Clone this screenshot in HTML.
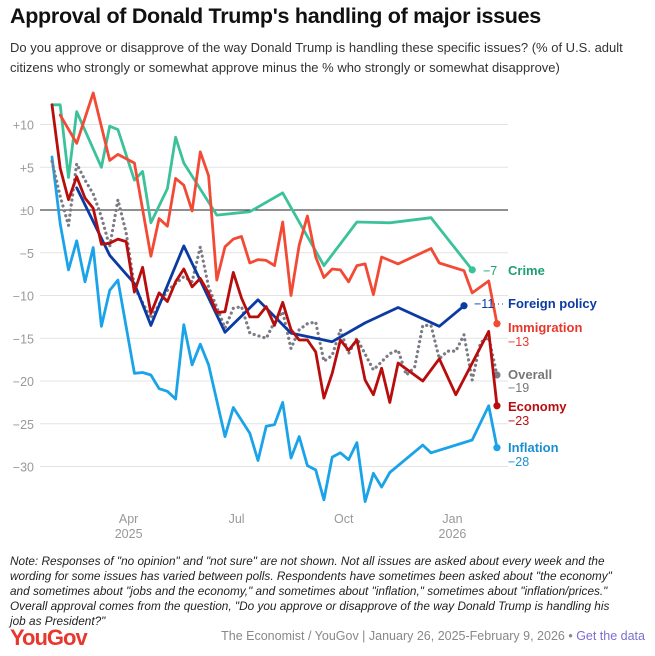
<!DOCTYPE html>
<html><head><meta charset="utf-8"><style>
body{margin:0;background:#fff;font-family:"Liberation Sans",sans-serif;}
#wrap{position:relative;width:655px;height:656px;overflow:hidden;}
h1{position:absolute;left:10px;top:4px;margin:0;font-size:21.5px;font-weight:bold;color:#111;letter-spacing:-0.3px;}
.sub{position:absolute;left:10px;top:38px;width:640px;font-size:13px;line-height:20px;color:#333;}
.note{position:absolute;left:10px;top:554px;width:609px;font-size:11.8px;line-height:15px;font-style:italic;color:#222;}
.logo{position:absolute;left:10px;top:625px;font-size:22px;font-weight:bold;color:#e8372c;letter-spacing:-1px;}
.foot{position:absolute;right:10px;top:629px;font-size:12.5px;color:#888;}
.foot span{color:#7a6fd0;}
</style></head><body>
<div id="wrap">
<h1>Approval of Donald Trump's handling of major issues</h1>
<div class="sub">Do you approve or disapprove of the way Donald Trump is handling these specific issues? (% of U.S. adult citizens who strongly or somewhat approve minus the % who strongly or somewhat disapprove)</div>
<svg id="chart" width="655" height="656" style="position:absolute;left:0;top:0"></svg>
<div class="note">Note: Responses of "no opinion" and "not sure" are not shown. Not all issues are asked about every week and the wording for some issues has varied between polls. Respondents have sometimes been asked about "the economy" and sometimes about "jobs and the economy," and sometimes about "inflation," sometimes about "inflation/prices."<br>Overall approval comes from the question, "Do you approve or disapprove of the way Donald Trump is handling his job as President?"</div>
<div class="logo">YouGov</div>
<div class="foot">The Economist / YouGov | January 26, 2025-February 9, 2026 • <span>Get the data</span></div>
</div>
<script>
const yTicks=[10,5,0,-5,-10,-15,-20,-25,-30];
const yTickLabels=["+10","+5","±0","−5","−10","−15","−20","−25","−30"];
const xTickWeeks=[9.3,22.4,35.4,48.6];
const xTickLabels=["Apr","Jul","Oct","Jan"];
const xTickYears=["2025","","","2026"];
const crimeWeeks=[0,1,2,3,6,7,8,10,11,12,14,15,16,20,24,28,33,37,41,46,51];
const crimeVals=[12.3,12.3,3.8,11.5,5,9.8,9.4,3.5,4.5,-1.5,2.5,8.5,5.5,-0.6,-0.2,2,-6.5,-1.4,-1.5,-0.9,-7];
const immWeeks=[1,3,5,7,8,10,12,13,14,15,16,17,18,19,20,21,22,23,24,25,26,27,28,29,30,31,32,33,34,35,36,37,38,39,40,42,46,47,50,51,53,54];
const immVals=[11.1,7.8,13.7,5.8,6.5,5.5,-5.4,-1,-1.9,3.7,2.9,-0.1,6.8,4,-8.2,-4.3,-3.4,-3.1,-6.2,-5.8,-5.9,-6.5,-1.4,-10,-4.1,-0.7,-5.5,-7.9,-6.9,-7,-8.4,-6.5,-6.3,-9.9,-5.5,-6.3,-4.5,-6.2,-7.1,-9.7,-8.3,-13.3];
const econWeeks=[0,1,2,3,4,5,6,7,8,9,10,11,12,13,14,15,16,17,18,19,20,21,22,23,24,25,26,27,28,29,30,31,32,33,34,35,36,37,38,39,40,41,42,45,47,49,53,54];
const econVals=[12.3,4.9,1.2,3.9,1.4,0.2,-4,-3.9,-3.4,-3.7,-9.6,-6.7,-12.1,-9.7,-10.7,-8.4,-6.9,-9,-8,-9.7,-12,-11.9,-7.3,-10.3,-12.5,-12.5,-11.3,-13.5,-10.8,-14,-15.2,-15.2,-16.6,-22,-19.1,-15.2,-16.4,-15.2,-19.9,-21.6,-18.5,-22.5,-17.9,-20,-17.4,-21.6,-14.2,-22.9];
const fpWeeks=[3,7,10,12,16,21,25,29,34,38,42,47,50];
const fpVals=[2.6,-5.3,-8.6,-13.5,-4.2,-14.3,-10.5,-14.4,-15.4,-13.2,-11.4,-13.6,-11.2];
const infWeeks=[0,1,2,3,4,5,6,7,8,10,11,12,13,14,15,16,17,18,19,21,22,23,24,25,26,27,28,29,30,31,32,33,34,35,36,37,38,39,40,41,45,46,51,53,54];
const infVals=[6.2,-1.6,-7,-3.6,-8.4,-4.4,-13.6,-9.4,-8.2,-19.1,-19,-19.3,-20.9,-21.2,-22.1,-13.4,-18.1,-15.7,-18.1,-26.5,-23.1,-24.6,-26.1,-29.3,-25.3,-25.1,-22.5,-29,-26.5,-29.9,-30.4,-33.9,-28.9,-28.4,-29.2,-27.2,-34.1,-30.8,-32.4,-30.7,-27.5,-28.4,-26.9,-22.9,-27.8];
const ovWeeks=[0,1,2,3,4,5,6,7,8,9,10,12,14,16,17,18,19,21,22,23,24,26,27,28,29,30,31,32,33,34,35,36,37,39,41,42,43,44,45,46,47,48,49,50,51,52,53,54];
const ovVals=[5.7,1.6,-1.8,5.4,3.5,1.9,-0.8,-4.3,1.2,-2.7,-9,-12.7,-9.4,-7.8,-8.4,-4.3,-9,-13.8,-11.5,-11.3,-14.4,-15,-13.1,-11.9,-16.2,-14,-13.3,-13.1,-17.7,-17,-14,-16.8,-15,-18.7,-16.8,-16.4,-19.3,-18.4,-13.5,-13.5,-17.4,-16.5,-16.5,-14.6,-19.9,-15.5,-14.9,-19.3];

const svg=document.getElementById('chart');
const NS='http://www.w3.org/2000/svg';
const x=w=>52+w*8.24;
const y=v=>210-v*8.55;
function mk(t,a){const e=document.createElementNS(NS,t);for(const k in a)e.setAttribute(k,a[k]);svg.appendChild(e);return e;}
yTicks.forEach((v,i)=>{
  const l=mk('line',{x1:40,x2:508,y1:y(v),y2:y(v),stroke:v===0?'#222':'#e3e3e3','stroke-width':1});
  
  
  const t=mk('text',{x:34,y:y(v)+5,'text-anchor':'end','font-size':12.5,fill:'#999','font-family':'Liberation Sans'});
  t.textContent=yTickLabels[i];
  
  
});
xTickWeeks.forEach((w,i)=>{
  const t=mk('text',{x:x(w),y:523,'text-anchor':'middle','font-size':12.5,fill:'#999','font-family':'Liberation Sans'});
  t.textContent=xTickLabels[i];
  
  
  if(xTickYears[i]){const t2=mk('text',{x:x(w),y:538,'text-anchor':'middle','font-size':12.5,fill:'#999','font-family':'Liberation Sans'});
  t2.textContent=xTickYears[i];
  
  }
});
const series=[
 ['inflation',infWeeks,infVals,'#1aa3e8',false],
 ['overall',ovWeeks,ovVals,'#7b7b85',true],
 ['crime',crimeWeeks,crimeVals,'#3cc29a',false],
 ['immigration',immWeeks,immVals,'#f24a35',false],
 ['foreign-policy',fpWeeks,fpVals,'#0b3aa3',false],
 ['economy',econWeeks,econVals,'#b80d0d',false]];
series.forEach(([n,ws,vs,c,dot])=>{
  const d=ws.map((w,i)=>(i?'L':'M')+x(w).toFixed(1)+','+y(vs[i]).toFixed(1)).join('');
  const p=mk('path',{d:d,fill:'none',stroke:c,'stroke-width':dot?3.2:2.8,'stroke-linejoin':'round','stroke-linecap':'round'});
  if(dot)p.setAttribute('stroke-dasharray','0.1 5');
  
  
  const li=ws.length-1;
  const ep=mk('circle',{cx:x(ws[li]),cy:y(vs[li]),r:3.6,fill:c});
  
  
});
const labels=[
 ['Crime','−7','#1f9e73',508,275,483,275],
 ['Foreign policy','−11','#0b3aa3',508,308,474,308],
 ['Immigration','','#e8372c',508,332,0,0],
 ['Overall','','#777',508,379,0,0],
 ['Economy','','#b80d0d',508,411,0,0],
 ['Inflation','','#1a8fd0',508,452,0,0]];
const subVals=[['−13','#e8372c',346],['−19','#777',392],['−23','#b80d0d',425],['−28','#1a8fd0',466]];
labels.forEach(([n,v,c,lx,ly,vx,vy])=>{
  const t=mk('text',{x:lx,y:ly,'font-size':13,'font-weight':'bold',fill:c,'font-family':'Liberation Sans'});
  t.textContent=n;
  
  
  if(v){const t2=mk('text',{x:vx,y:vy,'font-size':12.5,fill:c,'font-family':'Liberation Sans'});
  t2.textContent=v;
  
  }
});
subVals.forEach(([v,c,yy])=>{
  const t=mk('text',{x:508,y:yy,'font-size':12.5,fill:c,'font-family':'Liberation Sans'});
  t.textContent=v;
  
  
});
const ld=mk('line',{x1:494,x2:505,y1:304,y2:304,stroke:'#0b3aa3','stroke-dasharray':'1 3'});


</script>
</body></html>
